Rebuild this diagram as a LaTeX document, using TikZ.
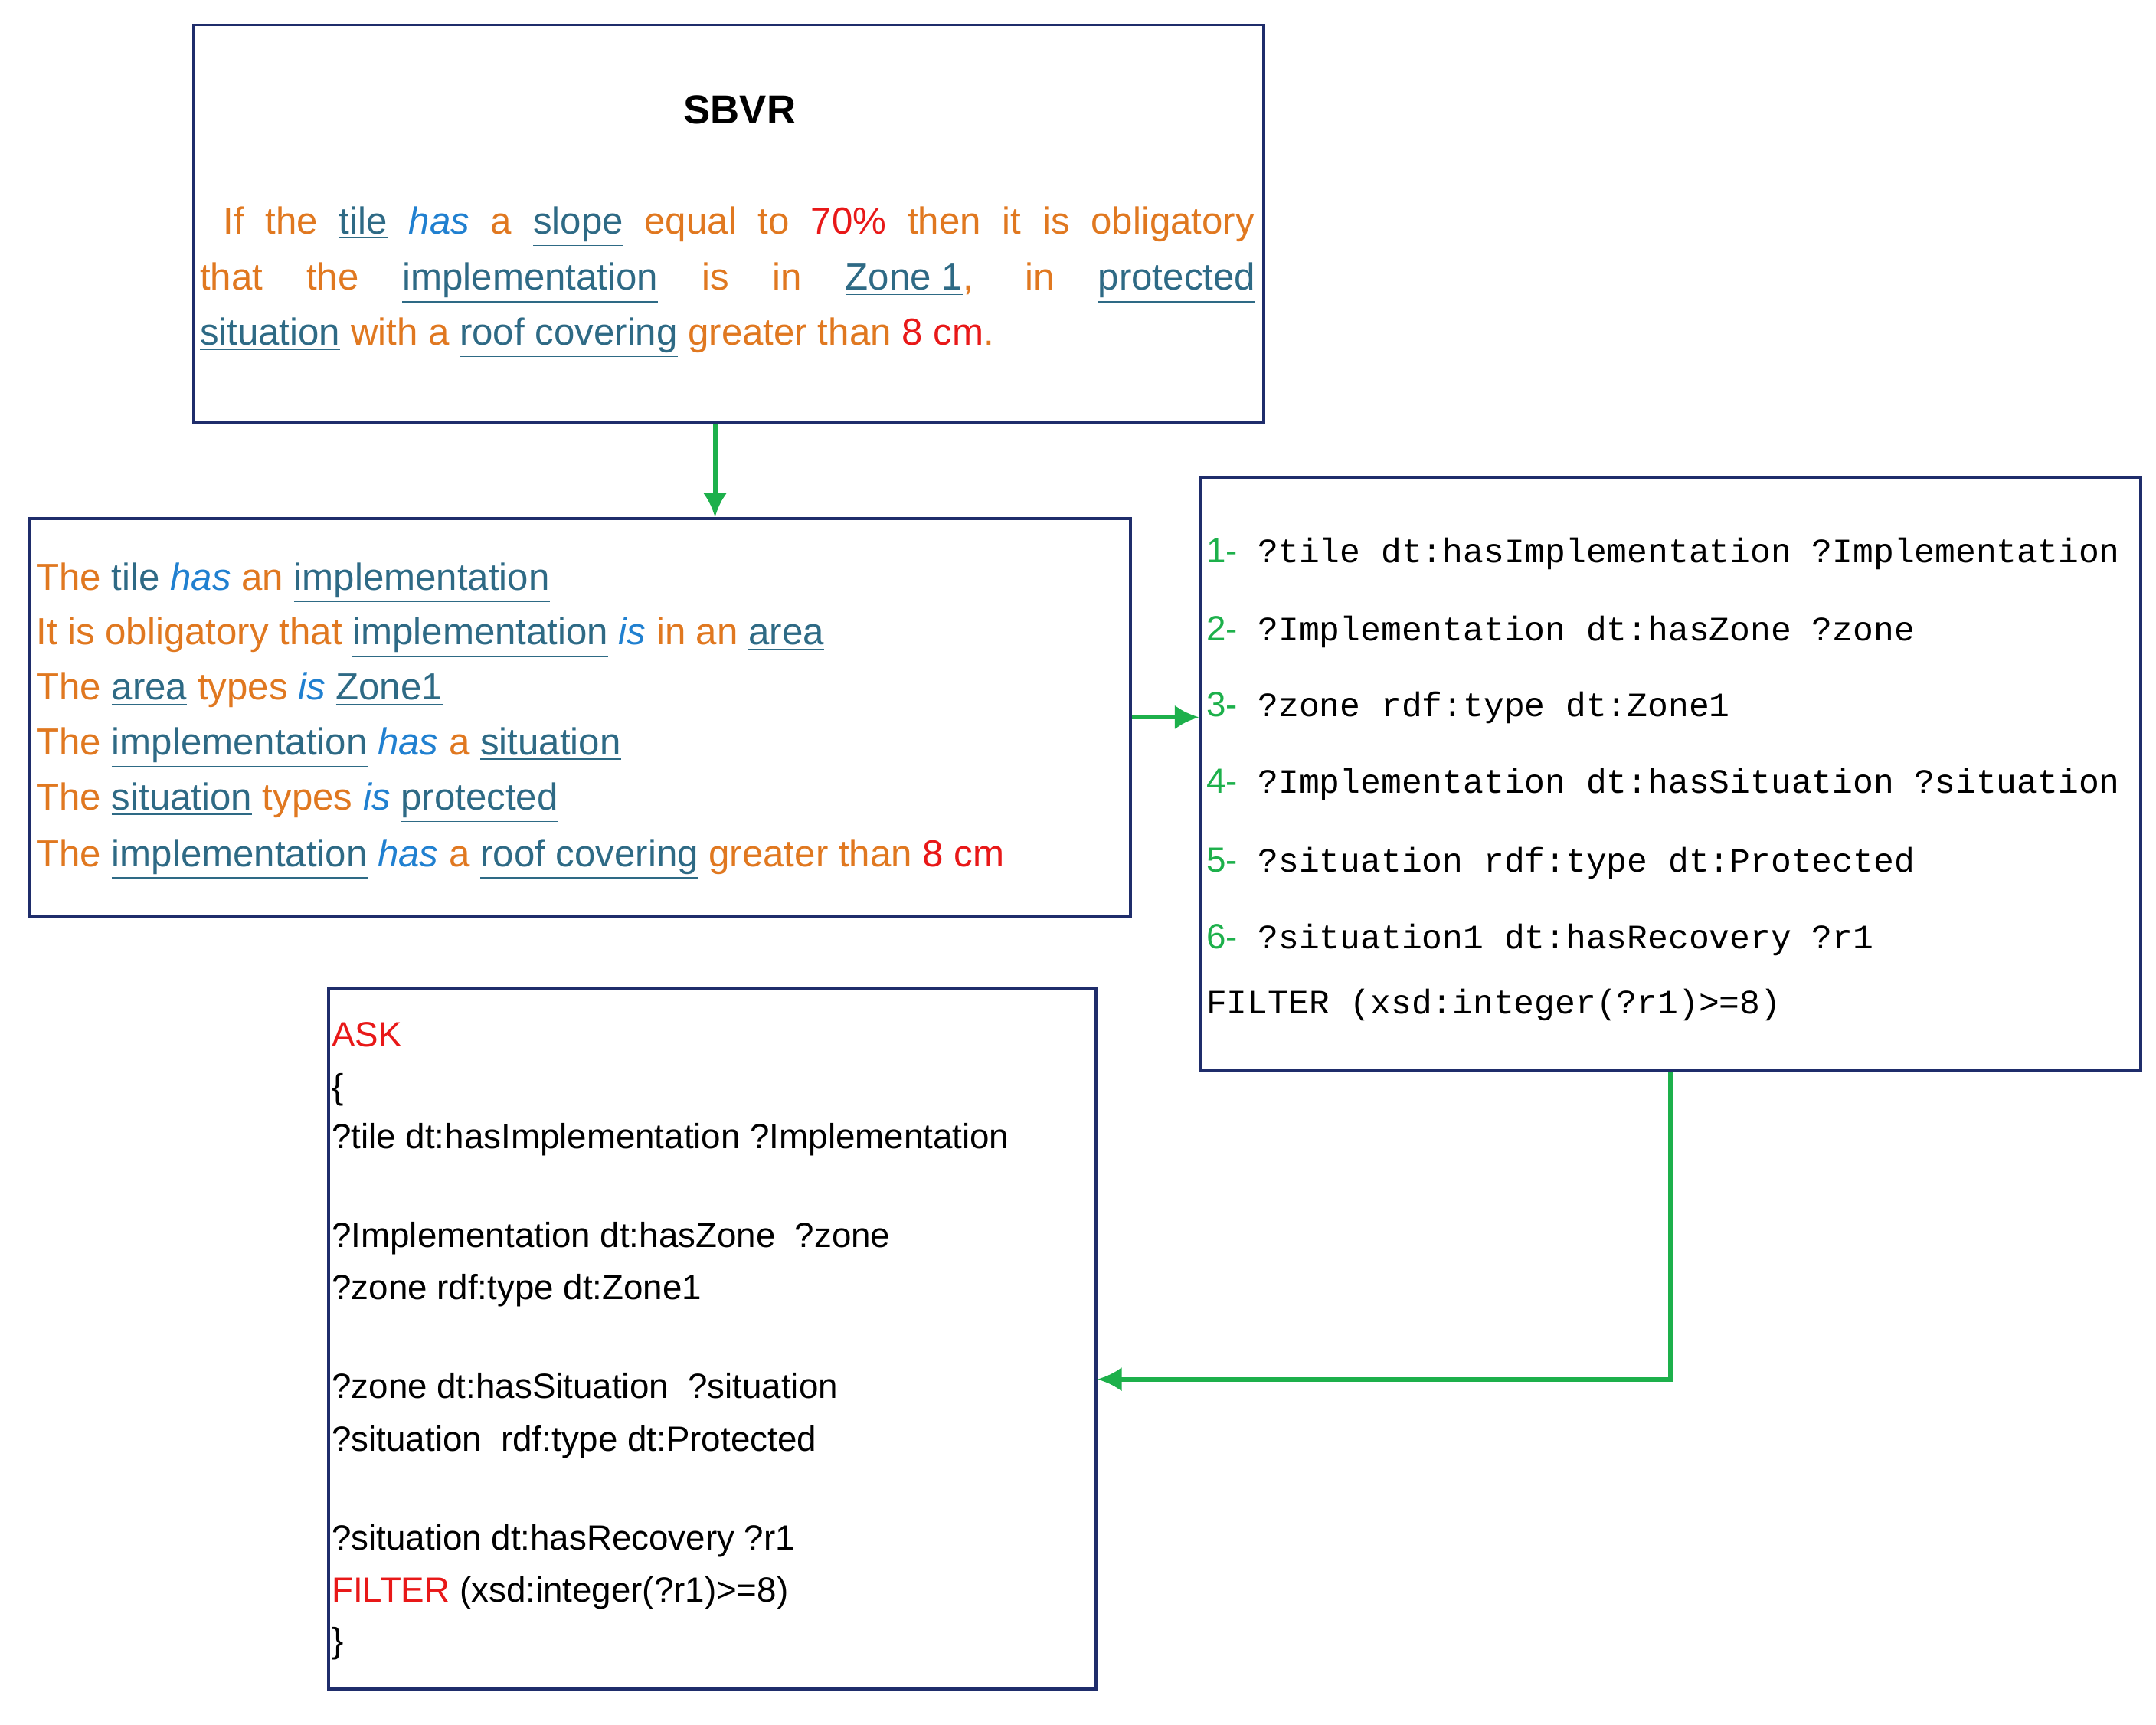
\documentclass[tikz,border=0pt]{standalone}
\usepackage{fontspec}
\setmainfont{Liberation Sans}
\newfontfamily\monof{Liberation Mono}
\usetikzlibrary{arrows.meta}
\definecolor{orn}{HTML}{E07820}
\definecolor{ulc}{HTML}{2E6A85}
\definecolor{hasc}{HTML}{2080D0}
\definecolor{rd}{HTML}{E81818}
\definecolor{grn}{HTML}{1DB04B}
\definecolor{bx}{HTML}{1F2D6B}
\newcommand{\uw}[1]{{\color{ulc}\underline{#1}}}
\newcommand{\hs}[1]{{\color{hasc}\itshape #1}}
\newcommand{\rr}[1]{{\color{rd}#1}}
\newcommand{\gn}[1]{{\color{grn}\fontsize{13}{15}\selectfont\rmfamily #1}}
\begin{document}
\begin{tikzpicture}[x=0.5107pt,y=-0.5107pt,
 box/.style={draw=bx,line width=1.1pt,inner sep=0,anchor=north west},
 arr/.style={draw=grn,line width=1.7pt,-{Latex[length=9pt,width=9pt]}},
 t1/.style={anchor=base west,inner sep=0,font=\fontsize{14}{16}\selectfont,text=orn},
 t3/.style={anchor=base west,inner sep=0,font=\fontsize{12.7}{15}\selectfont\monof},
 t4/.style={anchor=base west,inner sep=0,font=\fontsize{13}{15}\selectfont}]
\useasboundingbox (0,0) rectangle (1568,1254);
\node[box,minimum width=778*0.5107pt,minimum height=289*0.5107pt] (b1) at (140,17) {};
\node[box,minimum width=801*0.5107pt,minimum height=289*0.5107pt] (b2) at (20,376) {};
\node[box,minimum width=684*0.5107pt,minimum height=431*0.5107pt] (b3) at (872,346) {};
\node[box,minimum width=558*0.5107pt,minimum height=509*0.5107pt] (b4) at (238,718) {};

\node[inner sep=0,font=\fontsize{15}{17}\selectfont\bfseries] (title) at (538,80) {SBVR};
\node[t1] (s1) at (162,170) {\hbox to 383pt{If the \uw{tile} \hs{has} a \uw{slope} equal to \rr{70\%} then it is obligatory}};
\node[t1] (s2) at (145,211) {\hbox to 392pt{that the \uw{implementation} is in \uw{Zone 1}, in \uw{protected}}};
\node[t1] (s3) at (145,251) {\uw{situation} with a \uw{roof covering} greater than \rr{8 cm}.};

\node[t1] (p1) at (26,429) {The \uw{tile} \hs{has} an \uw{implementation}};
\node[t1] (p2) at (26,469) {It is obligatory that \uw{implementation} \hs{is} in an \uw{area}};
\node[t1] (p3) at (26,509) {The \uw{area} types \hs{is} \uw{Zone1}};
\node[t1] (p4) at (26,549) {The \uw{implementation} \hs{has} a \uw{situation}};
\node[t1] (p5) at (26,589) {The \uw{situation} types \hs{is} \uw{protected}};
\node[t1] (p6) at (26,630) {The \uw{implementation} \hs{has} a \uw{roof covering} greater than \rr{8 cm}};

\node[t3] (q1) at (877,409) {\gn{1-} ?tile dt:hasImplementation ?Implementation};
\node[t3] (q2) at (877,466) {\gn{2-} ?Implementation dt:hasZone ?zone};
\node[t3] (q3) at (877,521) {\gn{3-} ?zone rdf:type dt:Zone1};
\node[t3] (q4) at (877,577) {\gn{4-} ?Implementation dt:hasSituation ?situation};
\node[t3] (q5) at (877,634) {\gn{5-} ?situation rdf:type dt:Protected};
\node[t3] (q6) at (877,690) {\gn{6-} ?situation1 dt:hasRecovery ?r1};
\node[t3] (q7) at (877,737) {FILTER (xsd:integer(?r1)>=8)};

\node[t4,text=rd] (a1) at (241,761) {ASK};
\node[t4] (a2) at (241,799) {\{};
\node[t4] (a3) at (241,835) {?tile dt:hasImplementation ?Implementation};
\node[t4] (a4) at (241,907) {?Implementation dt:hasZone\ \ ?zone};
\node[t4] (a5) at (241,945) {?zone rdf:type dt:Zone1};
\node[t4] (a6) at (241,1017) {?zone dt:hasSituation\ \ ?situation};
\node[t4] (a7) at (241,1055) {?situation\ \ rdf:type dt:Protected};
\node[t4] (a8) at (241,1127) {?situation dt:hasRecovery ?r1};
\node[t4] (a9) at (241,1165) {\rr{FILTER} (xsd:integer(?r1)>=8)};
\node[t4] (a10) at (241,1202) {\}};

\coordinate (k1) at (520,0);
\coordinate (k3) at (0,1003);
\draw[arr] (b1.south -| k1) -- (b2.north -| k1);
\draw[arr] (b2.east) -- (b3.west |- b2.east);
\draw[arr] (b3.south) |- (b4.east |- k3);
\end{tikzpicture}
\end{document}
